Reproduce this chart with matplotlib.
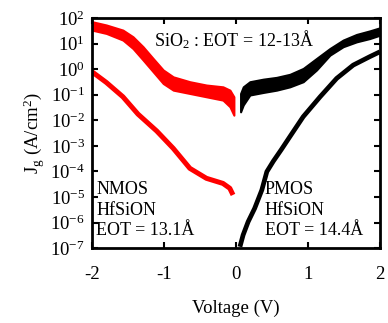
import numpy as np
import matplotlib
matplotlib.use('Agg')
from matplotlib import pyplot as plt

plt.rcParams['font.family'] = ['Liberation Serif', 'DejaVu Serif']
plt.rcParams['mathtext.fontset'] = 'custom'
plt.rcParams['mathtext.rm'] = 'Liberation Serif'
plt.rcParams['mathtext.it'] = 'Liberation Serif:italic'
plt.rcParams['axes.unicode_minus'] = False

# SiO2 NMOS band (log10 J, upper / lower edge)
v_sio2_n = [-2.0, -1.80, -1.57, -1.43, -1.29, -1.15, -1.01, -0.87, -0.64, -0.41, -0.18, -0.083, -0.028]
hi_sio2_n = [1.86, 1.73, 1.53, 1.27, 0.88, 0.42, -0.03, -0.30, -0.49, -0.62, -0.69, -0.82, -1.08]
lo_sio2_n = [1.53, 1.40, 1.14, 0.81, 0.36, -0.10, -0.56, -0.82, -0.95, -1.08, -1.21, -1.47, -1.80]

# SiO2 PMOS band
v_sio2_p = [0.065, 0.102, 0.194, 0.38, 0.565, 0.75, 0.935, 1.12, 1.306, 1.49, 1.676, 1.86, 2.0]
hi_sio2_p = [-0.95, -0.69, -0.49, -0.39, -0.32, -0.20, 0.03, 0.42, 0.81, 1.14, 1.36, 1.50, 1.62]
lo_sio2_p = [-1.67, -1.40, -1.01, -0.91, -0.82, -0.69, -0.49, -0.03, 0.55, 0.88, 1.07, 1.20, 1.33]

# HfSiON NMOS
v_hf_n = [-2.0, -1.80, -1.57, -1.36, -1.10, -0.87, -0.64, -0.41, -0.18, -0.085, -0.04]
j_hf_n = [-0.10, -0.52, -1.08, -1.76, -2.42, -3.10, -3.88, -4.27, -4.47, -4.66, -4.92]

# HfSiON PMOS
v_hf_p = [0.056, 0.10, 0.17, 0.26, 0.36, 0.43, 0.52, 0.63, 0.75, 0.935, 1.17, 1.40, 1.63, 1.86, 2.0]
j_hf_p = [-6.95, -6.49, -5.97, -5.45, -4.73, -4.01, -3.6, -3.15, -2.64, -1.86, -1.08, -0.36, 0.16, 0.49, 0.68]

xticks = [-2, -1, 0, 1, 2]
yexp = list(range(-7, 3))

fig = plt.figure(figsize=(3.88, 3.23), dpi=100)
ax = fig.add_axes([0.237, 0.232, 0.742, 0.712])

p = lambda a: 10.0 ** np.array(a)
ax.fill_between(v_sio2_n, p(lo_sio2_n), p(hi_sio2_n), color='red', lw=1.5, edgecolor='red')
ax.fill_between(v_sio2_p, p(lo_sio2_p), p(hi_sio2_p), color='black', lw=1.5, edgecolor='black')
ax.plot(v_hf_n, p(j_hf_n), color='red', lw=3.6, solid_capstyle='butt')
ax.plot(v_hf_p, p(j_hf_p), color='black', lw=3.4, solid_capstyle='butt')

ax.set_yscale('log')
ax.set_xlim(-2, 2)
ax.set_ylim(1e-7, 1e2)
ax.set_xticks(xticks)
ax.set_xticklabels([str(t) for t in xticks])
ax.set_yticks([10.0 ** e for e in yexp])
ax.set_yticklabels([r'10$^{%d}$' % e for e in yexp])
ax.minorticks_off()
ax.tick_params(direction='in', top=True, right=True, length=4, width=1.5, labelsize=13.5)
ax.tick_params(axis='x', pad=13)
ax.tick_params(axis='y', pad=5)
for s in ax.spines.values():
    s.set_linewidth(2)

ax.set_xlabel('Voltage (V)', fontsize=13.5, labelpad=12)
ax.set_ylabel(r'J$_\mathrm{g}$ (A/cm$^2$)', fontsize=13.5, labelpad=2)

ax.text(0.215, 0.905, r'SiO$_2$ : EOT = 12-13Å', transform=ax.transAxes, fontsize=13, va='center')
ax.text(0.015, 0.04, 'NMOS\nHfSiON\nEOT = 13.1Å', transform=ax.transAxes, fontsize=13,
        va='bottom', linespacing=1.25)
ax.text(0.60, 0.04, 'PMOS\nHfSiON\nEOT = 14.4Å', transform=ax.transAxes, fontsize=13,
        va='bottom', linespacing=1.25)

fig.savefig('out.png', dpi=100)
